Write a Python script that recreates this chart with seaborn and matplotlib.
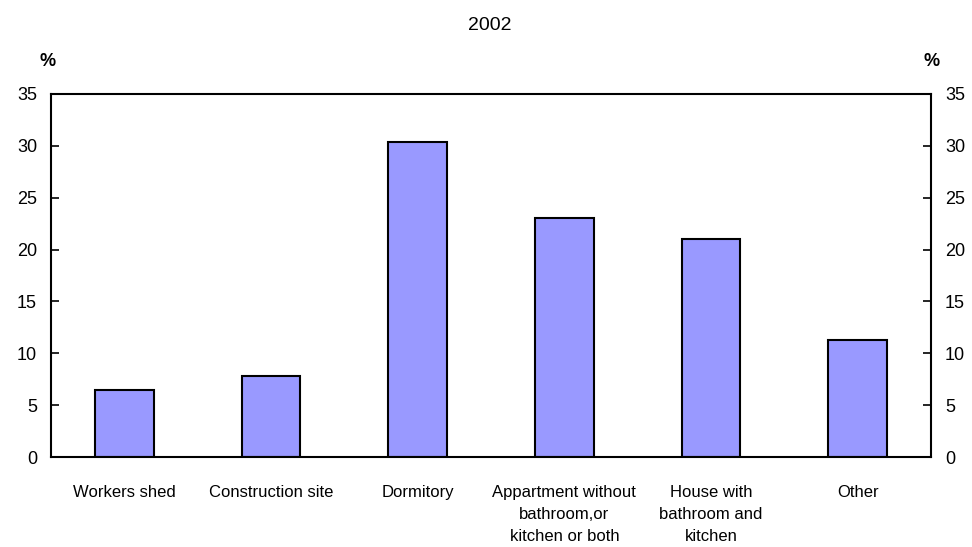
import matplotlib
matplotlib.use("Agg")
import matplotlib.pyplot as plt
import seaborn as sns
import pandas as pd

# Data
categories = ["Workers shed", "Construction site", "Dormitory",
              "Appartment without\nbathroom,or\nkitchen or both",
              "House with\nbathroom and\nkitchen", "Other"]
shares = [6.5, 7.8, 30.4, 23.0, 21.0, 11.3]
yticks = [0, 5, 10, 15, 20, 25, 30, 35]

df = pd.DataFrame({"cat": categories, "share": shares})

sns.set_style("white")
plt.rcParams["font.family"] = ["Liberation Sans", "DejaVu Sans"]
plt.rcParams["text.color"] = "black"
plt.rcParams["xtick.color"] = "black"
plt.rcParams["ytick.color"] = "black"

fig = plt.figure(figsize=(9.72, 5.47), dpi=100)
ax = fig.add_axes([51 / 972, 1 - 457 / 547, 880 / 972, 363 / 547])

sns.barplot(data=df, x="cat", y="share", color="#9999ff", edgecolor="black",
            linewidth=1.5, width=0.4, saturation=1, ax=ax)

ax.set_ylim(0, 35)
ax.set_xlim(-0.5, 5.5)
ax.set_yticks(yticks)
ax.set_xlabel("")
ax.set_ylabel("")
for s in ax.spines.values():
    s.set_color("black")
    s.set_linewidth(1.5)

ax.tick_params(axis="y", direction="in", length=6, width=1.2, labelsize=13,
               left=True, right=True, labelleft=True, labelright=True, pad=10)
ax.tick_params(axis="x", length=0, labelsize=12, pad=20)
for lbl in ax.get_xticklabels():
    lbl.set_verticalalignment("top")
    lbl.set_linespacing(1.6)

fig.text(490 / 972, 1 - 25 / 547, "2002", ha="center", va="center", fontsize=14)
fig.text(48 / 972, 1 - 62 / 547, "%", ha="center", va="center", fontsize=13, fontweight="bold")
fig.text(932 / 972, 1 - 62 / 547, "%", ha="center", va="center", fontsize=13, fontweight="bold")

fig.savefig("out.png", dpi=100)
